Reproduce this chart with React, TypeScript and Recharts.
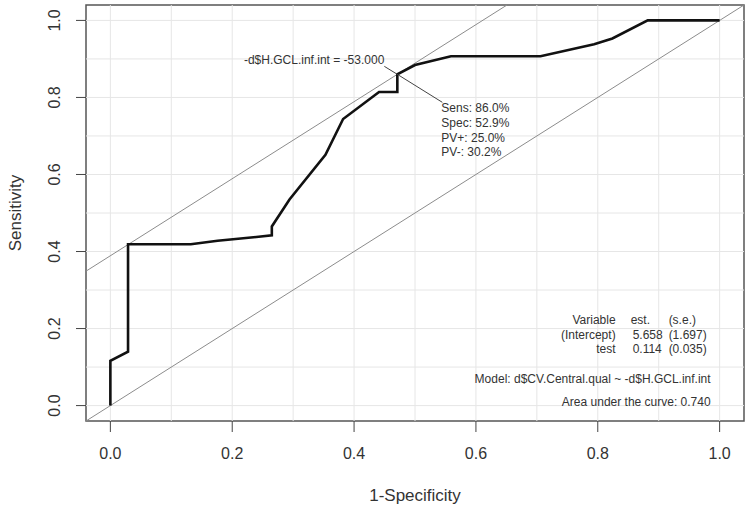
import { CartesianGrid, Label, Line, LineChart, ReferenceArea, ReferenceDot, ReferenceLine, XAxis, YAxis } from 'recharts';

// ROC curve (1-specificity vs sensitivity)
const fpr = [0, 0, 0.029, 0.029, 0.132, 0.176, 0.235, 0.265, 0.265, 0.294, 0.353, 0.382, 0.441, 0.471, 0.471, 0.5, 0.559, 0.706, 0.794, 0.824, 0.882, 1.0];
const tpr = [0, 0.116, 0.14, 0.419, 0.419, 0.428, 0.437, 0.442, 0.465, 0.535, 0.651, 0.744, 0.814, 0.814, 0.86, 0.884, 0.907, 0.907, 0.938, 0.953, 1.0, 1.0];

// optimal cut-off point
const cutFpr = 0.471;
const cutTpr = 0.86;

const axisTicks = [0, 0.2, 0.4, 0.6, 0.8, 1.0];
const gridValues = [0, 0.1, 0.2, 0.3, 0.4, 0.5, 0.6, 0.7, 0.8, 0.9, 1.0];
const lo = -0.04;
const hi = 1.04;

const cutLabel = '-d$H.GCL.inf.int = -53.000';
const cutStats = ['Sens: 86.0%', 'Spec: 52.9%', 'PV+: 25.0%', 'PV-: 30.2%'];

const tableRows = [
  ['Variable', 'est.', '(s.e.)'],
  ['(Intercept)', '5.658', '(1.697)'],
  ['test', '0.114', '(0.035)'],
];
const modelText = 'Model:  d$CV.Central.qual ~ -d$H.GCL.inf.int';
const aucText = 'Area under the curve: 0.740';

const rocData = fpr.map((x, i) => ({ fpr: x, tpr: tpr[i] }));

const FONT = '"Liberation Sans", Arial, sans-serif';
const TEXT = '#333';

function CutoffNote({ cx, cy }: any) {
  return (
    <g fontFamily={FONT} fontSize={12} fill={TEXT}>
      <line x1={cx} y1={cy} x2={cx - 13} y2={cy - 8} stroke="#444" strokeWidth={1} />
      <text x={cx - 13} y={cy - 10} textAnchor="end" fill={TEXT}>{cutLabel}</text>
      <line x1={cx} y1={cy} x2={cx + 45} y2={cy + 28} stroke="#444" strokeWidth={1} />
      {cutStats.map((s, i) => (
        <text key={s} x={cx + 44} y={cy + 38 + i * 14.6} fill={TEXT}>{s}</text>
      ))}
    </g>
  );
}

function StatsBlock({ cx, cy }: any) {
  const rowY = [-81.5, -67, -52.5];
  return (
    <g fontFamily={FONT} fontSize={12} fill={TEXT}>
      {tableRows.map((r, i) => (
        <g key={r[0]}>
          <text x={cx - 104} y={cy + rowY[i]} textAnchor="end" fill={TEXT}>{r[0]}</text>
          <text x={cx - (i === 0 ? 89 : 87)} y={cy + rowY[i]} fill={TEXT}>{r[1]}</text>
          <text x={cx - 51} y={cy + rowY[i]} fill={TEXT}>{r[2]}</text>
        </g>
      ))}
      <text x={cx - 9} y={cy - 22.5} textAnchor="end" fill={TEXT}>{modelText}</text>
      <text x={cx - 9} y={cy + 0.5} textAnchor="end" fill={TEXT}>{aucText}</text>
    </g>
  );
}

function XTick({ x, y, payload }: any) {
  return (
    <text x={x} y={y} textAnchor="middle" dominantBaseline="central" fontFamily={FONT} fontSize={16} fill={TEXT}>
      {Number(payload.value).toFixed(1)}
    </text>
  );
}

function YTick({ x, y, payload }: any) {
  return (
    <text x={x} y={y} transform={`rotate(-90, ${x}, ${y})`} textAnchor="middle" dominantBaseline="central" fontFamily={FONT} fontSize={16} fill={TEXT}>
      {Number(payload.value).toFixed(1)}
    </text>
  );
}

export default function App() {
  return (
    <div style={{ position: 'absolute', left: 0, top: 0, background: '#fff' }}>
      <LineChart width={753} height={511} data={rocData} margin={{ top: 5, right: 9, left: 0, bottom: 0 }}>
        <CartesianGrid stroke="none" />
        {gridValues.map((v) => (
          <ReferenceLine key={'gx' + v} x={v} stroke="#e6e6e6" strokeWidth={1} />
        ))}
        {gridValues.map((v) => (
          <ReferenceLine key={'gy' + v} y={v} stroke="#e6e6e6" strokeWidth={1} />
        ))}
        <XAxis
          dataKey="fpr"
          type="number"
          domain={[lo, hi]}
          ticks={axisTicks}
          allowDataOverflow
          height={90}
          axisLine={false}
          tickSize={11}
          tickMargin={21}
          tickLine={{ stroke: '#444' }}
          tick={<XTick />}
        >
          <Label
            content={({ viewBox }: any) => (
              <text x={viewBox.x + viewBox.width / 2} y={495} textAnchor="middle" dominantBaseline="central" fontFamily={FONT} fontSize={17} fill={TEXT}>
                1-Specificity
              </text>
            )}
          />
        </XAxis>
        <YAxis
          type="number"
          domain={[lo, hi]}
          ticks={axisTicks}
          allowDataOverflow
          width={86}
          axisLine={false}
          tickSize={10}
          tickMargin={21}
          tickLine={{ stroke: '#444' }}
          tick={<YTick />}
        >
          <Label
            content={({ viewBox }: any) => (
              <text
                x={15}
                y={viewBox.y + viewBox.height / 2}
                transform={`rotate(-90, 15, ${viewBox.y + viewBox.height / 2})`}
                textAnchor="middle"
                dominantBaseline="central"
                fontFamily={FONT}
                fontSize={17}
                fill={TEXT}
              >
                Sensitivity
              </text>
            )}
          />
        </YAxis>
        <ReferenceLine segment={[{ x: lo, y: lo }, { x: hi, y: hi }]} stroke="#8c8c8c" strokeWidth={1} />
        <ReferenceLine
          segment={[
            { x: lo, y: lo + cutTpr - cutFpr },
            { x: hi - (cutTpr - cutFpr), y: hi },
          ]}
          stroke="#8c8c8c"
          strokeWidth={1}
        />
        <Line
          type="linear"
          dataKey="tpr"
          stroke="#111"
          strokeWidth={2.6}
          dot={false}
          activeDot={false}
          isAnimationActive={false}
        />
        <ReferenceArea x1={lo} x2={hi} y1={lo} y2={hi} fill="none" stroke="#555" strokeWidth={1.5} />
        <ReferenceDot x={cutFpr} y={cutTpr} r={0} shape={<CutoffNote />} />
        <ReferenceDot x={1.0} y={0} r={0} shape={<StatsBlock />} />
      </LineChart>
    </div>
  );
}
